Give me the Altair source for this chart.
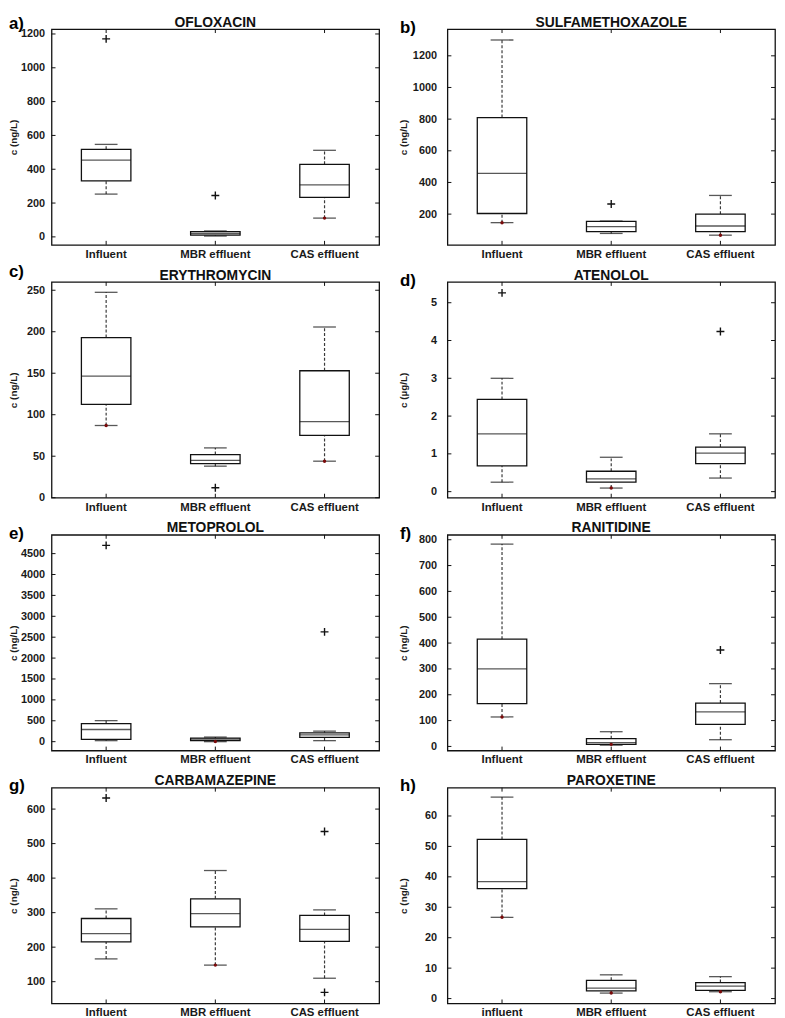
import altair as alt
import pandas as pd

# ---------------- data ----------------
CATEGORIES = ["Influent", "MBR effluent", "CAS effluent"]
CATEGORIES_H = ["influent", "MBR effluent", "CAS effluent"]

TITLES = ["OFLOXACIN", "SULFAMETHOXAZOLE", "ERYTHROMYCIN", "ATENOLOL",
          "METOPROLOL", "RANITIDINE", "CARBAMAZEPINE", "PAROXETINE"]
LETTERS = ["a)", "b)", "c)", "d)", "e)", "f)", "g)", "h)"]
Y_LABELS = ["c (ng/L)", "c (ng/L)", "c (ng/L)", "c (µg/L)",
            "c (ng/L)", "c (ng/L)", "c (ng/L)", "c (ng/L)"]

# [lower whisker, Q1, median, Q3, upper whisker] for Influent, MBR, CAS
OFLOXACIN = [[253, 331, 454, 518, 547], [5, 10, 20, 31, 35], [111, 234, 308, 429, 512]]
SULFAMETHOXAZOLE = [[146, 204, 457, 810, 1300], [78, 90, 121, 154, 156], [67, 90, 125, 200, 318]]
ERYTHROMYCIN = [[87, 112.5, 146.5, 193, 247.5], [38, 41, 45, 52, 60], [44, 75, 91.6, 153, 205.7]]
ATENOLOL = [[0.25, 0.68, 1.53, 2.44, 3.0], [0.095, 0.25, 0.34, 0.54, 0.91], [0.36, 0.74, 1.02, 1.18, 1.53]]
METOPROLOL = [[24, 55, 291, 433, 503], [0, 24, 63, 87, 110], [24, 102, 165, 212, 252]]
RANITIDINE = [[114, 166, 300, 415, 783], [5, 8, 15, 30, 57], [26, 85, 134, 168, 243]]
CARBAMAZEPINE = [[166, 215.5, 239, 283, 311], [148, 259, 297, 340, 422], [110, 216.5, 251.5, 292, 308]]
PAROXETINE = [[26.7, 36.1, 38.4, 52.3, 66.2], [1.8, 2.5, 3.4, 6.0, 7.8], [2.25, 2.7, 4.1, 5.25, 7.2]]
STATS = [OFLOXACIN, SULFAMETHOXAZOLE, ERYTHROMYCIN, ATENOLOL,
         METOPROLOL, RANITIDINE, CARBAMAZEPINE, PAROXETINE]

# outliers (category index, value)
OUTLIERS = [
    [(0, 1171), (1, 245)],
    [(1, 264)],
    [(1, 12)],
    [(0, 5.26), (2, 4.24)],
    [(0, 4697), (2, 2628)],
    [(2, 373)],
    [(0, 632), (2, 535), (2, 69)],
    [],
]
# small dark-red markers (category index, value)
DOTS = [
    [(2, 111)],
    [(0, 146), (2, 67)],
    [(0, 87), (2, 44)],
    [(1, 0.095)],
    [(1, 5)],
    [(0, 114), (1, 8)],
    [(1, 148)],
    [(0, 26.7), (1, 1.8), (2, 2.25)],
]

Y_DOMAINS = [[-47, 1229], [6, 1369], [0, 260], [-0.16, 5.55],
             [-213, 4950], [-16, 819], [37, 662], [-1.6, 69.3]]
Y_TICKS = [
    [0, 200, 400, 600, 800, 1000, 1200],
    [200, 400, 600, 800, 1000, 1200],
    [0, 50, 100, 150, 200, 250],
    [0, 1, 2, 3, 4, 5],
    [0, 500, 1000, 1500, 2000, 2500, 3000, 3500, 4000, 4500],
    [0, 100, 200, 300, 400, 500, 600, 700, 800],
    [100, 200, 300, 400, 500, 600],
    [0, 10, 20, 30, 40, 50, 60],
]

# ---------------- style ----------------
W, H = 331, 218
FONT = "Liberation Sans"
INK = "#1a1a1a"
LETTER_TOP = [-13.4, -9, -18, -9, -9, -9, -10, -10]
PLUS = "M-1,0H1M0,-1V1"


def panel(i):
    cats = CATEGORIES_H if i == 7 else CATEGORIES
    st = STATS[i]
    right_col = i % 2 == 1
    box_df = pd.DataFrame({
        "cat": cats,
        "lo": [s[0] for s in st],
        "q1": [s[1] for s in st],
        "med": [s[2] for s in st],
        "q3": [s[3] for s in st],
        "hi": [s[4] for s in st],
    })
    xs = alt.Scale(domain=cats, paddingInner=0, paddingOuter=0)
    ys = alt.Scale(domain=Y_DOMAINS[i], nice=False, zero=False)
    x_axis = alt.Axis(title=None, labelAngle=0, labelFontSize=11.5, labelPadding=3.5,
                      labelFont=FONT, labelFontWeight="bold", labelColor=INK,
                      ticks=False, domain=False, grid=False)
    y_axis = alt.Axis(values=Y_TICKS[i], format="d", title=Y_LABELS[i],
                      titleX=-38 if not right_col else -44, titleY=H / 2,
                      titleAngle=-90, titleAlign="center", titleBaseline="middle",
                      titleFontSize=10, titleFont=FONT, titleFontWeight="bold", titleColor=INK,
                      labelFontSize=11, labelFont=FONT, labelFontWeight="bold", labelColor=INK,
                      labelPadding=11 if right_col else 7,
                      ticks=False, domain=False, grid=False)
    X = alt.X("cat:N", sort=cats, scale=xs, axis=x_axis)

    def Y(f):
        return alt.Y(f, scale=ys, axis=y_axis)

    base = alt.Chart(box_df)
    whisk_lo = base.mark_rule(color="#3a3a3a", strokeDash=[3, 2], strokeWidth=1.2).encode(
        x=X, y=Y("lo:Q"), y2="q1:Q")
    whisk_hi = base.mark_rule(color="#3a3a3a", strokeDash=[3, 2], strokeWidth=1.2).encode(
        x=X, y=Y("q3:Q"), y2="hi:Q")
    box = base.mark_bar(size=50, fill="white", stroke="#111", strokeWidth=1.3).encode(
        x=X, y=Y("q1:Q"), y2="q3:Q")
    med = base.mark_tick(size=50, thickness=1.3, color="#111", orient="horizontal").encode(
        x=X, y=Y("med:Q"))
    cap_lo = base.mark_tick(size=23, thickness=1.3, color="#111", orient="horizontal").encode(
        x=X, y=Y("lo:Q"))
    cap_hi = base.mark_tick(size=23, thickness=1.3, color="#111", orient="horizontal").encode(
        x=X, y=Y("hi:Q"))
    layers = [whisk_lo, whisk_hi, box, med, cap_lo, cap_hi]

    if OUTLIERS[i]:
        out_df = pd.DataFrame({"cat": [cats[c] for c, _ in OUTLIERS[i]],
                               "v": [v for _, v in OUTLIERS[i]]})
        layers.append(alt.Chart(out_df).mark_point(
            shape=PLUS, size=64, filled=False, stroke="#111", strokeWidth=1.4, opacity=1).encode(
            x=X, y=Y("v:Q")))
    if DOTS[i]:
        dot_df = pd.DataFrame({"cat": [cats[c] for c, _ in DOTS[i]],
                               "v": [v for _, v in DOTS[i]]})
        layers.append(alt.Chart(dot_df).mark_circle(size=12, color="#7a0a0a", opacity=1).encode(
            x=X, y=Y("v:Q")))

    tick_df = pd.DataFrame({"v": Y_TICKS[i]})
    layers.append(alt.Chart(tick_df).mark_rule(color="#111", strokeWidth=1).encode(
        x=alt.value(0), x2=alt.value(4), y=Y("v:Q")))
    layers.append(alt.Chart(tick_df).mark_rule(color="#111", strokeWidth=1).encode(
        x=alt.value(W - 4), x2=alt.value(W), y=Y("v:Q")))
    cat_df = pd.DataFrame({"cat": cats})
    layers.append(alt.Chart(cat_df).mark_rule(color="#111", strokeWidth=1).encode(
        x=X, y=alt.value(0), y2=alt.value(4)))
    layers.append(alt.Chart(cat_df).mark_rule(color="#111", strokeWidth=1).encode(
        x=X, y=alt.value(H - 4), y2=alt.value(H)))

    label_df = pd.DataFrame({"letter": [LETTERS[i]], "title": [TITLES[i]]})
    layers.append(alt.Chart(label_df).mark_text(
        align="left", baseline="top", fontSize=17, fontWeight="bold",
        font=FONT, color="#000").encode(
        x=alt.value(-43 if not right_col else -48), y=alt.value(LETTER_TOP[i]), text="letter:N"))
    layers.append(alt.Chart(label_df).mark_text(
        align="center", baseline="top", fontSize=14, fontWeight="bold",
        font=FONT, color="#111").encode(
        x=alt.value(W / 2), y=alt.value(-13.4), text="title:N"))

    return alt.layer(*layers).properties(width=W, height=H)


panels = [panel(i) for i in range(8)]
chart = alt.concat(*panels, columns=2, spacing={"row": 37.5, "column": 69},
                   bounds="flush").properties(padding=0).configure_view(
    stroke="#111", strokeWidth=1.3)

chart.save("out.html", embed_options={"renderer": "svg", "actions": False})
